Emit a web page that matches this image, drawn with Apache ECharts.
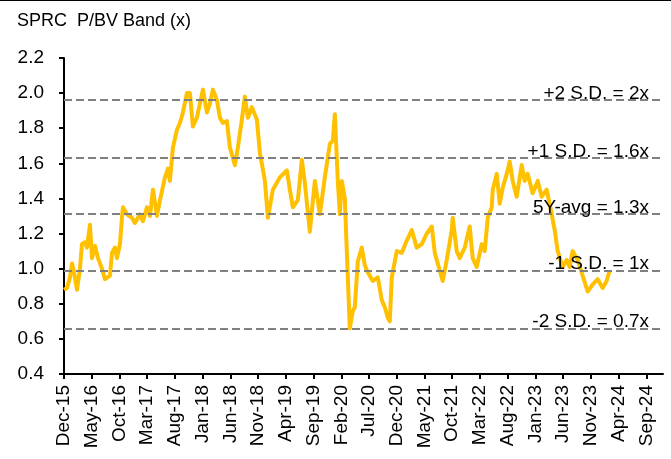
<!DOCTYPE html>
<html>
<head>
<meta charset="utf-8">
<title>SPRC P/BV Band</title>
<script src="https://cdn.jsdelivr.net/npm/echarts@6/dist/echarts.min.js"></script>
<style>
  html, body { margin: 0; padding: 0; background: #fff; }
  #chart {
    width: 671px;
    height: 458px;
    border-top: 1px solid #000;
  }
</style>
</head>
<body>
<div id="chart"></div>
<script>
// x 轴刻度文字（每 5 个月一格，从 Dec-15 开始）
let tickLabels = ["Dec-15", "May-16", "Oct-16", "Mar-17", "Aug-17", "Jan-18", "Jun-18", "Nov-18",
  "Apr-19", "Sep-19", "Feb-20", "Jul-20", "Dec-20", "May-21", "Oct-21", "Mar-22",
  "Aug-22", "Jan-23", "Jun-23", "Nov-23", "Apr-24", "Sep-24"];

// 距 Dec-15 的月数
let monthOffset = [0, 0.54, 1.08, 1.44, 1.8, 2.34, 2.88, 3.24, 3.78, 4.14,
  4.68, 5.05, 5.59, 6.13, 6.85, 7.39, 8.29, 8.65, 9.19, 9.55,
  10.09, 10.45, 10.63, 11.35, 12.25, 12.79, 13.69, 14.23, 14.95, 15.5,
  16.04, 16.76, 17.3, 18.2, 18.74, 19.1, 19.64, 20.36, 20.9, 21.44,
  22.16, 22.7, 23.24, 23.96, 24.5, 25.05, 25.77, 26.31, 26.85, 27.57,
  28.11, 28.65, 29.37, 29.91, 30.81, 31.35, 32.07, 32.61, 33.15, 33.87,
  34.77, 35.32, 36.22, 36.76, 37.66, 38.92, 40.18, 40.72, 41.26, 42.16,
  42.88, 43.42, 44.32, 45.23, 46.13, 47.03, 47.93, 48.47, 48.83, 49.37,
  49.73, 50.09, 50.63, 50.99, 51.53, 52.07, 52.43, 52.97, 53.69, 54.23,
  54.77, 55.68, 56.58, 57.3, 57.84, 58.38, 58.74, 59.1, 60.0, 60.9,
  61.8, 62.7, 63.6, 64.5, 65.41, 66.31, 66.85, 67.75, 68.29, 69.01,
  69.91, 70.09, 70.81, 71.35, 72.25, 73.15, 73.69, 74.41, 75.32, 75.86,
  76.4, 77.12, 77.3, 78.02, 78.56, 79.1, 79.82, 80.36, 80.9, 81.62,
  82.52, 83.06, 83.6, 84.5, 85.41, 86.13, 87.03, 87.93, 88.47, 89.01,
  89.91, 90.63, 91.17, 91.71, 92.61, 93.51, 94.41, 95.32, 96.22, 97.12,
  97.84, 98.38];

// P/BV (x)
let pbv = [0.88, 0.89, 0.95, 1.03, 0.98, 0.88, 1.0, 1.14, 1.15, 1.12,
  1.25, 1.06, 1.13, 1.06, 1.0, 0.94, 0.96, 1.09, 1.12, 1.06,
  1.14, 1.29, 1.35, 1.31, 1.29, 1.26, 1.31, 1.27, 1.35, 1.3,
  1.45, 1.3, 1.39, 1.52, 1.57, 1.5, 1.69, 1.79, 1.83, 1.89,
  2.0, 2.0, 1.81, 1.86, 1.94, 2.02, 1.89, 1.94, 2.02, 1.96,
  1.86, 1.83, 1.84, 1.69, 1.59, 1.69, 1.85, 1.98, 1.86, 1.92,
  1.85, 1.66, 1.5, 1.29, 1.45, 1.52, 1.56, 1.45, 1.35, 1.39,
  1.62, 1.49, 1.21, 1.5, 1.31, 1.52, 1.71, 1.73, 1.88, 1.5,
  1.31, 1.5, 1.4, 1.1, 0.66, 0.76, 0.78, 1.04, 1.12, 1.02,
  0.98, 0.93, 0.95, 0.82, 0.78, 0.72, 0.7, 0.95, 1.1, 1.09,
  1.16, 1.22, 1.12, 1.14, 1.2, 1.24, 1.09, 0.99, 0.93, 1.05,
  1.22, 1.29, 1.1, 1.06, 1.12, 1.24, 1.06, 1.01, 1.14, 1.1,
  1.29, 1.35, 1.45, 1.54, 1.37, 1.46, 1.54, 1.61, 1.5, 1.41,
  1.59, 1.5, 1.54, 1.43, 1.5, 1.41, 1.45, 1.31, 1.22, 1.1,
  1.01, 1.05, 1.01, 1.1, 1.05, 0.96, 0.87, 0.91, 0.94, 0.89,
  0.93, 0.99];

// 估值带
let bandValues = [1.96, 1.63, 1.31, 0.99, 0.66];
let bandLabels = ["+2 S.D. = 2x", "+1 S.D. = 1.6x", "5Y-avg = 1.3x", "-1 S.D. = 1x", "-2 S.D. = 0.7x"];

let font = "'Liberation Sans', Arial, Helvetica, sans-serif";

let chart = echarts.init(document.getElementById("chart"));

chart.setOption({
  animation: false,
  title: {
    text: "SPRC  P/BV Band (x)",
    left: 12,
    top: 6,
    textStyle: { fontFamily: font, fontSize: 18, fontWeight: "normal", color: "#000" }
  },
  grid: { left: 64, right: 8, top: 57, bottom: 85 },
  xAxis: {
    type: "value",
    min: 0,
    max: 108,
    interval: 5,
    splitLine: { show: false },
    axisLine: { lineStyle: { color: "#000", width: 2 } },
    axisTick: {
      length: 5,
      lineStyle: { color: "#000", width: 2 },
      customValues: tickLabels.map((l, i) => i * 5)
    },
    axisLabel: {
      rotate: 90,
      margin: 11,
      color: "#000",
      fontFamily: font,
      fontSize: 19,
      customValues: tickLabels.map((l, i) => i * 5),
      formatter: (v) => tickLabels[Math.round(v / 5)] || ""
    }
  },
  yAxis: {
    type: "value",
    min: 0.4,
    max: 2.2,
    interval: 0.2,
    splitLine: { show: false },
    axisLine: { show: true, lineStyle: { color: "#000", width: 2 } },
    axisTick: { show: true, length: 5, lineStyle: { color: "#000", width: 2 } },
    axisLabel: {
      margin: 20,
      color: "#000",
      fontFamily: font,
      fontSize: 19,
      formatter: (v) => v.toFixed(1)
    }
  },
  series: [
    {
      type: "line",
      data: monthOffset.map((m, i) => [m, pbv[i]]),
      showSymbol: false,
      lineStyle: { color: "#FFC000", width: 4, join: "round" },
      itemStyle: { color: "#FFC000" },
      z: 3,
      markLine: {
        silent: true,
        symbol: ["none", "none"],
        lineStyle: { color: "#808080", type: [8, 4], width: 2 },
        label: {
          position: "insideEndTop",
          distance: [14, -3],
          color: "#000",
          fontFamily: font,
          fontSize: 19
        },
        data: bandValues.map((v, i) => ({ yAxis: v, label: { formatter: bandLabels[i] } }))
      }
    }
  ]
});
</script>
</body>
</html>
